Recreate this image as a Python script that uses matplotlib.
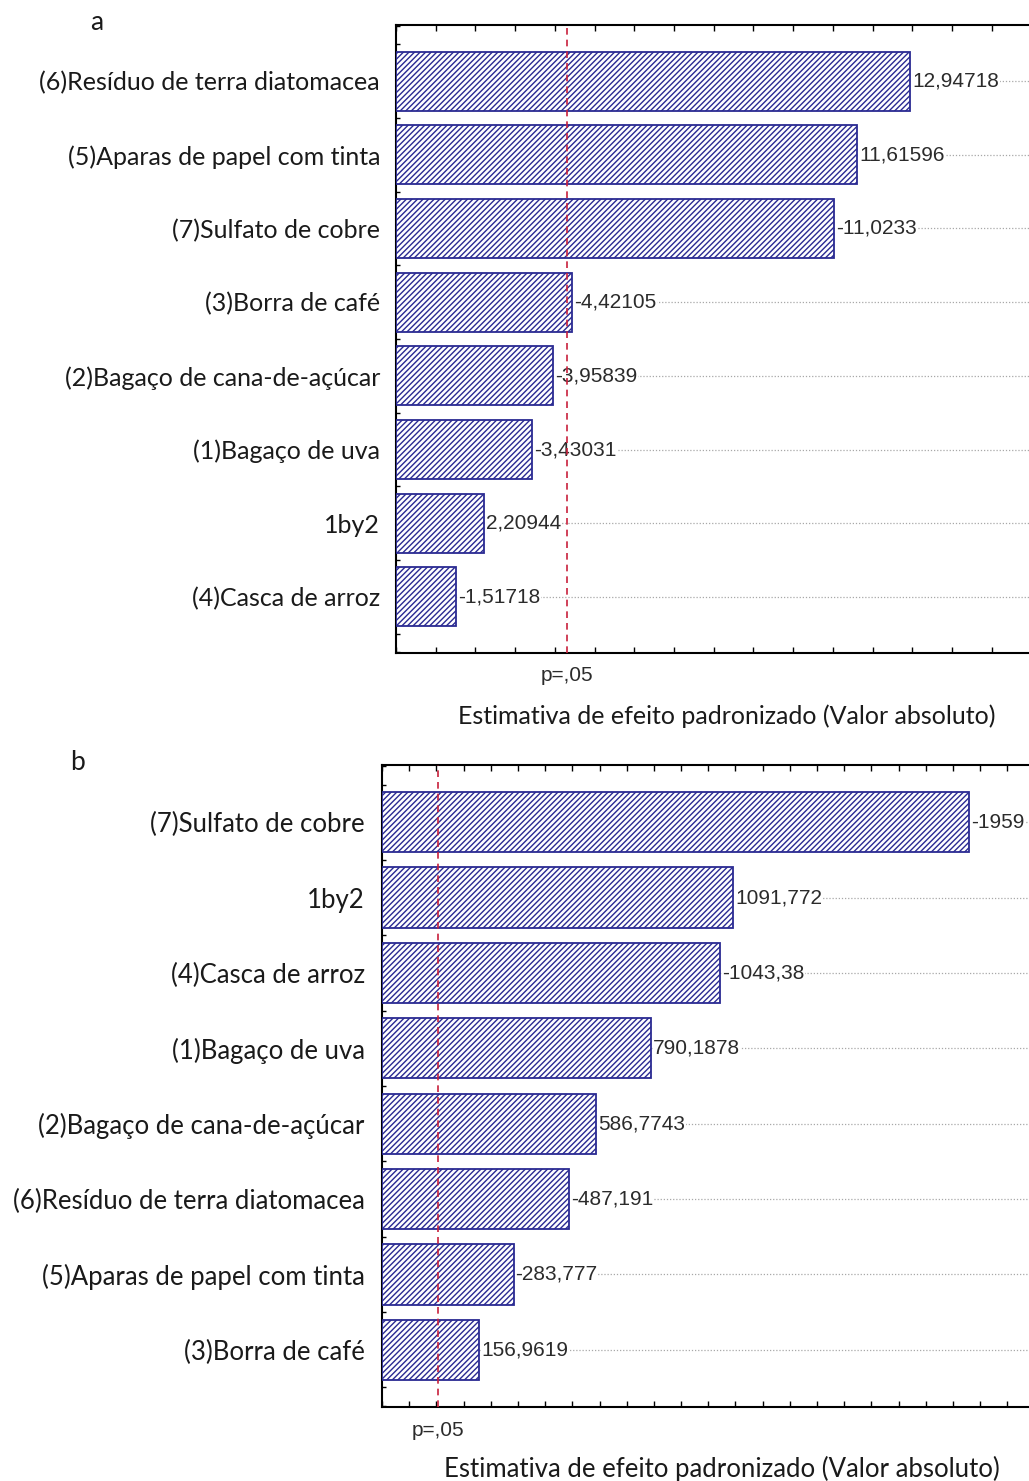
import matplotlib
matplotlib.use("Agg")
import matplotlib.pyplot as plt
from matplotlib.ticker import MultipleLocator, FixedLocator

# ---- data -------------------------------------------------------------
factors_a = [
    "(6)Resíduo de terra diatomacea",
    "(5)Aparas de papel com tinta",
    "(7)Sulfato de cobre",
    "(3)Borra de café",
    "(2)Bagaço de cana-de-açúcar",
    "(1)Bagaço de uva",
    "1by2",
    "(4)Casca de arroz",
]
effects_a = [12.94718, 11.61596, -11.0233, -4.42105, -3.95839, -3.43031, 2.20944, -1.51718]

factors_b = [
    "(7)Sulfato de cobre",
    "1by2",
    "(4)Casca de arroz",
    "(1)Bagaço de uva",
    "(2)Bagaço de cana-de-açúcar",
    "(6)Resíduo de terra diatomacea",
    "(5)Aparas de papel com tinta",
    "(3)Borra de café",
]
effects_b = [-1959, 1091.772, -1043.38, 790.1878, 586.7743, -487.191, -283.777, 156.9619]

p_critical = 4.303  # t(0.975; 2)
p_label = "p=,05"
x_title = "Estimativa de efeito padronizado (Valor absoluto)"

# ---- layout helpers ------------------------------------------------------
W, H, DPI = 1029, 1481, 100
fig = plt.figure(figsize=(W / DPI, H / DPI), dpi=DPI)
fig.patch.set_facecolor("white")

LABEL_FONT = "Lato"
VALUE_FONT = "Liberation Sans"
EDGE = "#2a2a92"
TEXT_GREY = "#2b2b2b"
plt.rcParams["hatch.linewidth"] = 1.0


def fx(px):
    return px / W


def fy(py):
    return 1 - py / H


def fmt(v):
    return str(v).replace(".", ",")


def pareto_panel(left_px, top_px, bottom_px, xmin, xmax, px_per_unit,
                 factors, effects, tick_step, label_pad, label_size, letter,
                 letter_xy, plabel_y, xtitle_xy):
    width = (xmax - xmin) * px_per_unit / W
    ax = fig.add_axes([fx(left_px), fy(bottom_px), width, (bottom_px - top_px) / H])
    n = len(factors)
    pos = list(range(n))
    mags = [abs(v) for v in effects]

    for p in pos:
        ax.axhline(p, color="#a8a8a8", lw=0.9, ls=(0, (1, 1.5)), zorder=1)

    ax.barh(pos, [m - xmin for m in mags], left=xmin, height=0.8,
            color="white", edgecolor=EDGE, hatch="//////", lw=1.3, zorder=3)

    for p, m, v in zip(pos, mags, effects):
        ax.annotate(fmt(v), xy=(m, p), xytext=(1.5, 0), textcoords="offset points",
                    ha="left", va="center", fontsize=15, family=VALUE_FONT,
                    color=TEXT_GREY, zorder=4,
                    bbox=dict(fc="white", ec="none", pad=0.5))

    ax.axvline(p_critical, color="#c8203c", lw=1.2, ls=(0, (4, 3)), zorder=5)

    ax.set_xlim(xmin, xmax)
    ax.set_ylim(n - 1 + 0.76, -0.76)

    ax.xaxis.set_major_locator(MultipleLocator(tick_step))
    ax.tick_params(axis="x", direction="in", top=True, bottom=True, length=4,
                   width=1, labelbottom=False, labeltop=False)
    ax.set_yticks(pos)
    ax.set_yticklabels(factors, fontsize=label_size, family=LABEL_FONT, color="#1a1a1a")
    ax.yaxis.set_minor_locator(FixedLocator([i * 0.25 - 0.75 for i in range(4 * n + 3)]))
    ax.tick_params(axis="y", which="major", length=0, pad=label_pad)
    ax.tick_params(axis="y", which="minor", direction="in", length=3, width=1)

    for side in ("left", "top", "bottom"):
        ax.spines[side].set_linewidth(1.5)
        ax.spines[side].set_color("black")
    ax.spines["right"].set_visible(False)

    ax.text(p_critical, 1 - (plabel_y - top_px) / (bottom_px - top_px), p_label,
            transform=ax.get_xaxis_transform(), ha="center", va="center",
            fontsize=15, family=VALUE_FONT, color=TEXT_GREY)

    fig.text(fx(xtitle_xy[0]), fy(xtitle_xy[1]), x_title, ha="center", va="center",
             fontsize=label_size, family=LABEL_FONT, color="#1a1a1a")
    fig.text(fx(letter_xy[0]), fy(letter_xy[1]), letter, ha="center", va="center",
             fontsize=19, family=LABEL_FONT, color="#1a1a1a")
    return ax


pareto_panel(396, 25, 653, 0, 17, 39.72, factors_a, effects_a, 1, 11.5, 18,
             "a", (97, 22), 675, (727, 716))
pareto_panel(382, 765, 1407, -200, 2400, 0.2719, factors_b, effects_b, 100, 12.5, 18.5,
             "b", (77, 763), 1430, (722, 1469))

fig.savefig("out.png", dpi=DPI, facecolor="white")
